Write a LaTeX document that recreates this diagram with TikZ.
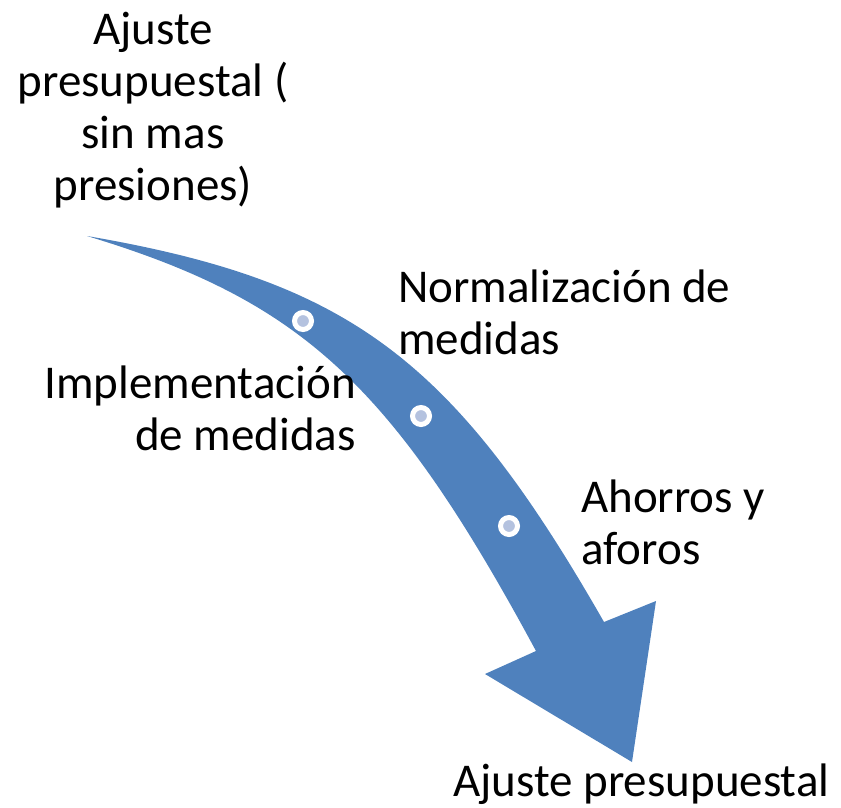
\documentclass[tikz,border=0pt]{standalone}
\usepackage{fontspec}
\setmainfont{Carlito}
\definecolor{arrowblue}{HTML}{4F81BD}
\definecolor{dotfill}{HTML}{B4C2DF}
\begin{document}
\begin{tikzpicture}[x=1pt,y=-1pt,
  lbl/.style={inner sep=0pt, font=\fontsize{47}{52}\selectfont},
  dotmark/.style={circle, inner sep=0pt, minimum size=17pt, fill=dotfill, draw=white, line width=5pt}]
\useasboundingbox (0,0) rectangle (841,808);
% curved arrow
\fill[arrowblue] (87,236) .. controls (349,281) and (453,358) .. (604,622)
  -- (656,601) -- (632,762) -- (485,674) -- (536,651)
  .. controls (392,384) and (302,301) .. (87,236) -- cycle;
% markers
\node[dotmark] (d1) at (303,321) {};
\node[dotmark] (d2) at (421,416) {};
\node[dotmark] (d3) at (509,526) {};
% labels (base anchor = baseline of the last line)
\node[lbl, anchor=base, align=center] (t1) at (153,200) {Ajuste\\presupuestal (\\sin mas\\presiones)};
\node[lbl, anchor=base west, align=left] (t2) at (398,354) {Normalización de\\medidas};
\node[lbl, anchor=base east, align=right] (t3) at (356,450) {Implementación\\de medidas};
\node[lbl, anchor=base west, align=left] (t4) at (581,564) {Ahorros y\\aforos};
\node[lbl, anchor=base west] (t5) at (453,796) {Ajuste presupuestal};
\end{tikzpicture}
\end{document}
